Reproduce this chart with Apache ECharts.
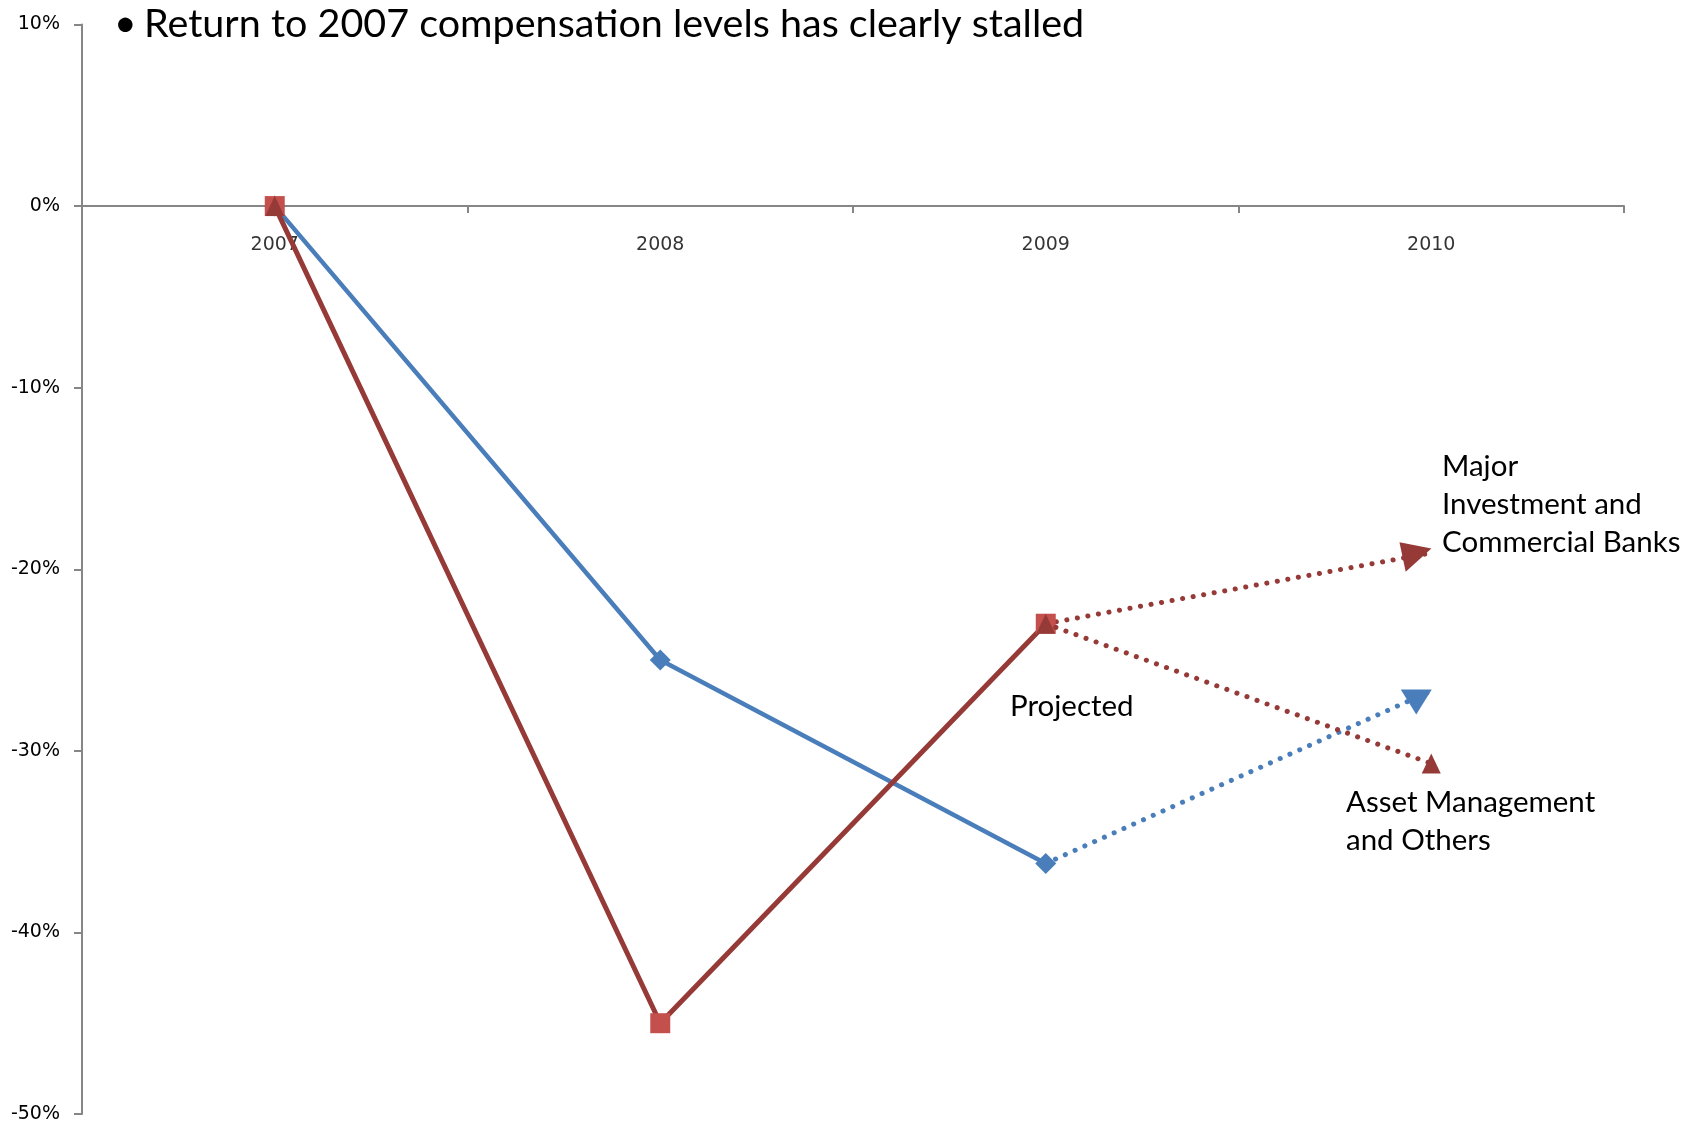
<!DOCTYPE html>
<html>
<head>
<meta charset="utf-8">
<title>Compensation vs 2007</title>
<script src="https://cdn.jsdelivr.net/npm/echarts@6/dist/echarts.min.js"></script>
<style>
  html, body { margin: 0; padding: 0; background: #fff; }
  #chart { width: 1702px; height: 1126px; }
</style>
</head>
<body>
<div id="chart"></div>
<script>
// Change in compensation relative to 2007 (percent)
const years = ['2007', '2008', '2009', '2010'];

// Actuals
const assetMgmt   = [0, -25, -36.2, null];   // blue, diamonds
const majorBanks  = [0, -45, -23, null];     // red, squares

// Projections for 2010
const assetMgmtProj  = [null, null, -36.2, -26.7];
const majorBanksHigh = [null, null, -23, -19.1];
const majorBanksLow  = [0, null, -23, -30.7];

const yTicks = { min: -50, max: 10, interval: 10 };

const BLUE = '#4A7EBB';
const RED = '#963A38';
const RED_LIGHT = '#C4504E';
const AXIS = '#868686';
const LABEL_FONT = '"DejaVu Sans", sans-serif';
const NOTE_FONT = 'Lato, "Open Sans", sans-serif';

// Only the end point of a projection gets a marker (its arrowhead)
function endpointOnly(values, endSymbol) {
  const last = values.length - 1;
  return values.map((v, i) => {
    if (v === null) return null;
    if (i === last) return Object.assign({ value: v }, endSymbol);
    return { value: v, symbol: 'none' };
  });
}

const dotted = { width: 5, type: [0.1, 10.6], cap: 'round' };

const chart = echarts.init(document.getElementById('chart'), null, { renderer: 'canvas' });

chart.setOption({
  animation: false,
  backgroundColor: '#ffffff',
  grid: { left: 82, right: 78, top: 24.5, bottom: 12, containLabel: false, outerBoundsMode: 'none' },
  xAxis: {
    type: 'category',
    data: years,
    boundaryGap: true,
    axisLine: { onZero: true, lineStyle: { color: AXIS, width: 2 } },
    axisTick: { show: true, length: 7, lineStyle: { color: AXIS, width: 2 } },
    // year labels hang under the zero line (drawn by the label series below)
    axisLabel: { show: false },
    splitLine: { show: false }
  },
  yAxis: {
    type: 'value',
    min: yTicks.min,
    max: yTicks.max,
    interval: yTicks.interval,
    axisLine: { show: true, lineStyle: { color: AXIS, width: 2 } },
    axisTick: { show: true, length: 8, lineStyle: { color: AXIS, width: 2 } },
    axisLabel: { margin: 22, fontSize: 19, color: '#000', fontFamily: LABEL_FONT, formatter: '{value}%' },
    splitLine: { show: false }
  },
  series: [
    {
      name: 'Year labels',
      type: 'scatter',
      data: years.map(y => [y, 0]),
      symbolSize: 0,
      silent: true,
      label: {
        show: true,
        position: 'bottom',
        distance: 29,
        formatter: p => p.value[0],
        fontSize: 19,
        color: '#000',
        fontFamily: LABEL_FONT
      },
      z: 1
    },
    {
      name: 'Asset Management and Others',
      type: 'line',
      data: assetMgmt,
      symbol: 'diamond',
      symbolSize: 21,
      itemStyle: { color: BLUE },
      lineStyle: { color: BLUE, width: 4.5 },
      z: 2
    },
    {
      name: 'Asset Management and Others (projected)',
      type: 'line',
      data: endpointOnly(assetMgmtProj, {
        symbol: 'triangle', symbolSize: [31, 25], symbolRotate: 180, symbolOffset: [-15, 11]
      }),
      itemStyle: { color: BLUE },
      lineStyle: Object.assign({ color: BLUE }, dotted),
      z: 2
    },
    {
      name: 'Major Investment and Commercial Banks (projected high)',
      type: 'line',
      data: endpointOnly(majorBanksHigh, {
        symbol: 'path://M0,0 L10,4.2 L0,10 Z', symbolSize: [30, 30], symbolRotate: 12, symbolOffset: [-14, 1]
      }),
      itemStyle: { color: RED },
      lineStyle: Object.assign({ color: RED }, dotted),
      z: 3
    },
    {
      name: 'Major Investment and Commercial Banks',
      type: 'line',
      data: majorBanks,
      symbol: 'rect',
      symbolSize: 20,
      itemStyle: { color: RED_LIGHT },
      lineStyle: { color: RED, width: 5 },
      z: 4
    },
    {
      name: 'Major Investment and Commercial Banks (projected low)',
      type: 'line',
      data: majorBanksLow,
      symbol: 'triangle',
      symbolSize: [19, 20],
      itemStyle: { color: RED },
      lineStyle: Object.assign({ color: RED }, dotted),
      z: 5
    }
  ],
  graphic: [
    { type: 'text', left: 114, top: 4, style: { text: '•', font: '39px ' + NOTE_FONT, fill: '#000' } },
    { type: 'text', left: 144, top: 4, style: { text: 'Return to 2007 compensation levels has clearly stalled', font: '39.5px ' + NOTE_FONT, fill: '#000' } },
    { type: 'text', left: 1442, top: 447, style: { text: 'Major\nInvestment and\nCommercial Banks', font: '29.5px ' + NOTE_FONT, lineHeight: 38, fill: '#000' } },
    { type: 'text', left: 1010, top: 691, style: { text: 'Projected', font: '29.5px ' + NOTE_FONT, fill: '#000' } },
    { type: 'text', left: 1346, top: 783, style: { text: 'Asset Management\nand Others', font: '29.5px ' + NOTE_FONT, lineHeight: 38, fill: '#000' } }
  ]
});
</script>
</body>
</html>
